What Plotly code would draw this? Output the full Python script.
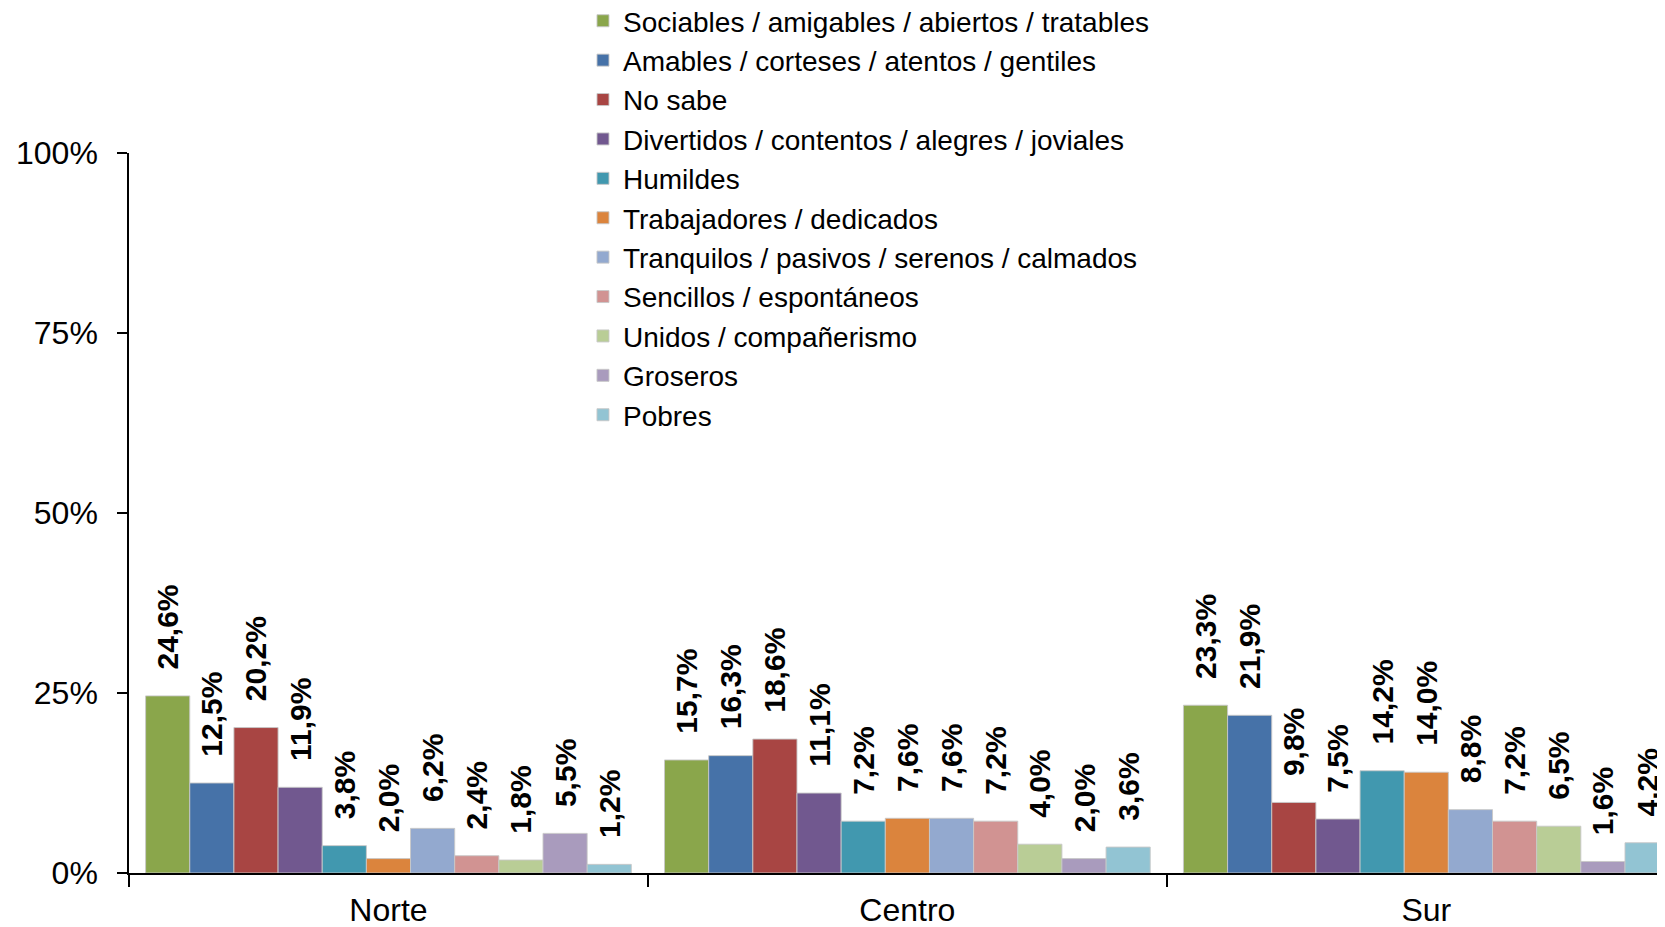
import plotly.graph_objects as go

regions = ["Norte", "Centro", "Sur"]

series_names = [
    "Sociables / amigables / abiertos / tratables",
    "Amables / corteses / atentos / gentiles",
    "No sabe",
    "Divertidos / contentos / alegres / joviales",
    "Humildes",
    "Trabajadores / dedicados",
    "Tranquilos / pasivos / serenos / calmados",
    "Sencillos / espontáneos",
    "Unidos / compañerismo",
    "Groseros",
    "Pobres",
]

# percentages per series, in order Norte, Centro, Sur
sociables = [24.6, 15.7, 23.3]
amables = [12.5, 16.3, 21.9]
no_sabe = [20.2, 18.6, 9.8]
divertidos = [11.9, 11.1, 7.5]
humildes = [3.8, 7.2, 14.2]
trabajadores = [2.0, 7.6, 14.0]
tranquilos = [6.2, 7.6, 8.8]
sencillos = [2.4, 7.2, 7.2]
unidos = [1.8, 4.0, 6.5]
groseros = [5.5, 2.0, 1.6]
pobres = [1.2, 3.6, 4.2]

series_values = [sociables, amables, no_sabe, divertidos, humildes, trabajadores,
                 tranquilos, sencillos, unidos, groseros, pobres]

colors = ["#8AA64B", "#4672A8", "#A84543", "#71588F", "#4198AF", "#DB843D",
          "#93A9CF", "#D19392", "#B9CD96", "#A99BBD", "#92C4D3"]

y_ticks = [0, 0.25, 0.5, 0.75, 1.0]

FONT = "Liberation Sans, Arial, sans-serif"

fig = go.Figure()
for name, vals, col in zip(series_names, series_values, colors):
    fig.add_trace(
        go.Bar(
            x=regions,
            y=[v / 100 for v in vals],
            name=name,
            marker=dict(color=col, line=dict(color="rgba(200,200,200,0.9)", width=1)),
            # leading spaces keep the label off the bar top, like the original
            texttemplate="\u2002\u00a0%{y:.1%}",
            textposition="outside",
            textangle=-90,
            constraintext="none",
            cliponaxis=False,
            textfont=dict(family=FONT, size=30, color="black", weight="bold"),
        )
    )

# page body has an 8px margin, so the figure is a bit smaller than the window
fig.update_layout(
    width=1657,
    height=919,
    separators=",.",
    barmode="group",
    bargap=0.064,
    bargroupgap=0,
    plot_bgcolor="white",
    paper_bgcolor="white",
    margin=dict(l=121, r=0, t=145, b=54, autoexpand=False),
    font=dict(family=FONT, size=32, color="black"),
    legend=dict(
        xref="container",
        yref="paper",
        x=0.347,
        y=1.218,
        xanchor="left",
        yanchor="top",
        font=dict(family=FONT, size=28, color="black"),
        bgcolor="rgba(0,0,0,0)",
        traceorder="normal",
    ),
    showlegend=True,
)

fig.update_xaxes(
    type="category",
    range=[-0.5, 2.46],
    showline=True,
    linecolor="black",
    linewidth=1.5,
    ticks="outside",
    tickson="boundaries",
    ticklen=12,
    tickcolor="black",
    tickwidth=1.5,
    showgrid=False,
    ticklabelstandoff=8,
    tickfont=dict(size=32),
)

fig.update_yaxes(
    range=[0, 1],
    tickvals=y_ticks,
    tickformat=".0%",
    showline=True,
    linecolor="black",
    linewidth=1.5,
    ticks="outside",
    ticklen=10,
    tickcolor="black",
    tickwidth=1.5,
    showgrid=False,
    zeroline=False,
    ticklabelstandoff=13,
    tickfont=dict(size=32),
)

fig.write_html("out.html")
